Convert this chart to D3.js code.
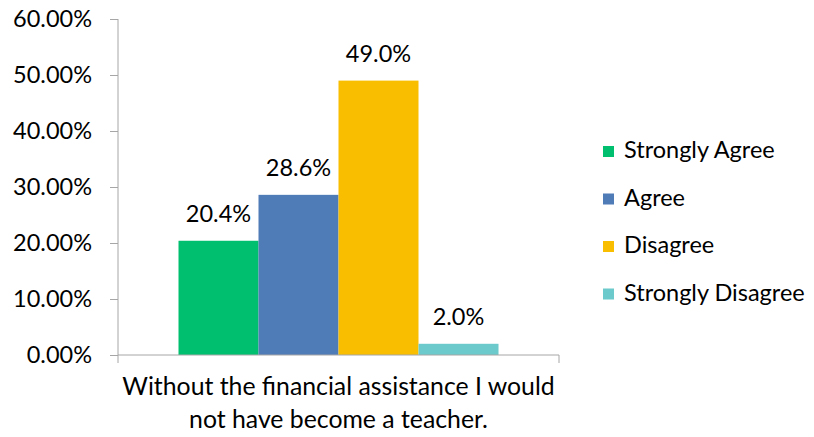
<!DOCTYPE html>
<html>
<head>
<meta charset="utf-8">
<script src="https://cdn.jsdelivr.net/npm/d3@7"></script>
<style>
  html, body { margin: 0; padding: 0; background: #fff; }
  svg { display: block; }
  text { font-family: Lato, "Open Sans", sans-serif; fill: #000; }
</style>
</head>
<body>
<svg id="chart" width="814" height="437"></svg>
<script>
// ---- data ----
const categoryLines = ["Without the financial assistance I would", "not have become a teacher."];
const seriesNames = ["Strongly Agree", "Agree", "Disagree", "Strongly Disagree"];
const seriesValues = [20.4, 28.6, 49.0, 2.0];
const valueLabels = ["20.4%", "28.6%", "49.0%", "2.0%"];
const seriesColors = ["#00BF6F", "#4F7BB6", "#FABE00", "#6CC9CC"];
const yTicks = [0, 10, 20, 30, 40, 50, 60];
const yTickLabels = ["0.00%", "10.00%", "20.00%", "30.00%", "40.00%", "50.00%", "60.00%"];

// ---- layout ----
const svg = d3.select("#chart");
const plotLeft = 118, plotRight = 559, plotTop = 19, plotBottom = 355;
const fontSize = 23.5;
const catFontSize = 24.8;
const axisColor = "#A6A6A6";

const y = d3.scaleLinear().domain([0, 60]).range([plotBottom, plotTop]);
const x0 = d3.scaleBand().domain(["cat"]).range([plotLeft, plotRight]).paddingInner(0).paddingOuter(0);
const groupWidth = 320;
const x1 = d3.scaleBand().domain(seriesNames)
  .range([x0("cat") + (x0.bandwidth() - groupWidth) / 2, x0("cat") + (x0.bandwidth() + groupWidth) / 2]);

// bars
svg.append("g").selectAll("rect")
  .data(seriesNames)
  .join("rect")
  .attr("x", d => x1(d))
  .attr("width", x1.bandwidth())
  .attr("y", (d, i) => y(seriesValues[i]))
  .attr("height", (d, i) => y(0) - y(seriesValues[i]))
  .attr("fill", (d, i) => seriesColors[i]);

// y axis
const yAxis = d3.axisLeft(y).tickValues(yTicks).tickFormat((d, i) => yTickLabels[i]).tickSize(8).tickPadding(18);
const gy = svg.append("g").attr("transform", `translate(${plotLeft},0)`).call(yAxis);
gy.select(".domain").attr("stroke", axisColor).attr("d", `M0,${plotTop}V${plotBottom + 8}`);
gy.selectAll(".tick line").attr("stroke", axisColor);
gy.selectAll(".tick text").attr("font-size", fontSize).attr("font-family", "Lato").attr("fill", "#000").attr("dy", "0.33em");

// x axis
const gx = svg.append("g").attr("transform", `translate(0,${plotBottom})`)
  .call(d3.axisBottom(x0).tickSize(0).tickFormat(""));
gx.select(".domain").attr("stroke", axisColor).attr("d", `M${plotLeft},0H${plotRight}V8`);

// category label (two lines)
svg.append("g").selectAll("text")
  .data(categoryLines)
  .join("text")
  .attr("x", x0("cat") + x0.bandwidth() / 2)
  .attr("y", (d, i) => 395 + i * 33)
  .attr("text-anchor", "middle")
  .attr("font-size", catFontSize)
  .text(d => d);

// value labels
svg.append("g").selectAll("text")
  .data(seriesNames)
  .join("text")
  .attr("x", d => x1(d) + x1.bandwidth() / 2)
  .attr("y", (d, i) => y(seriesValues[i]) - 19)
  .attr("text-anchor", "middle")
  .attr("font-size", fontSize)
  .text((d, i) => valueLabels[i]);

// legend
const legend = svg.append("g").selectAll("g")
  .data(seriesNames)
  .join("g")
  .attr("transform", (d, i) => `translate(603, ${151.5 + i * 47.5})`);
legend.append("rect")
  .attr("x", 0).attr("y", -5.5).attr("width", 11).attr("height", 11)
  .attr("fill", (d, i) => seriesColors[i]);
legend.append("text")
  .attr("x", 21).attr("y", 6.5)
  .attr("font-size", fontSize)
  .text(d => d);
</script>
</body>
</html>
